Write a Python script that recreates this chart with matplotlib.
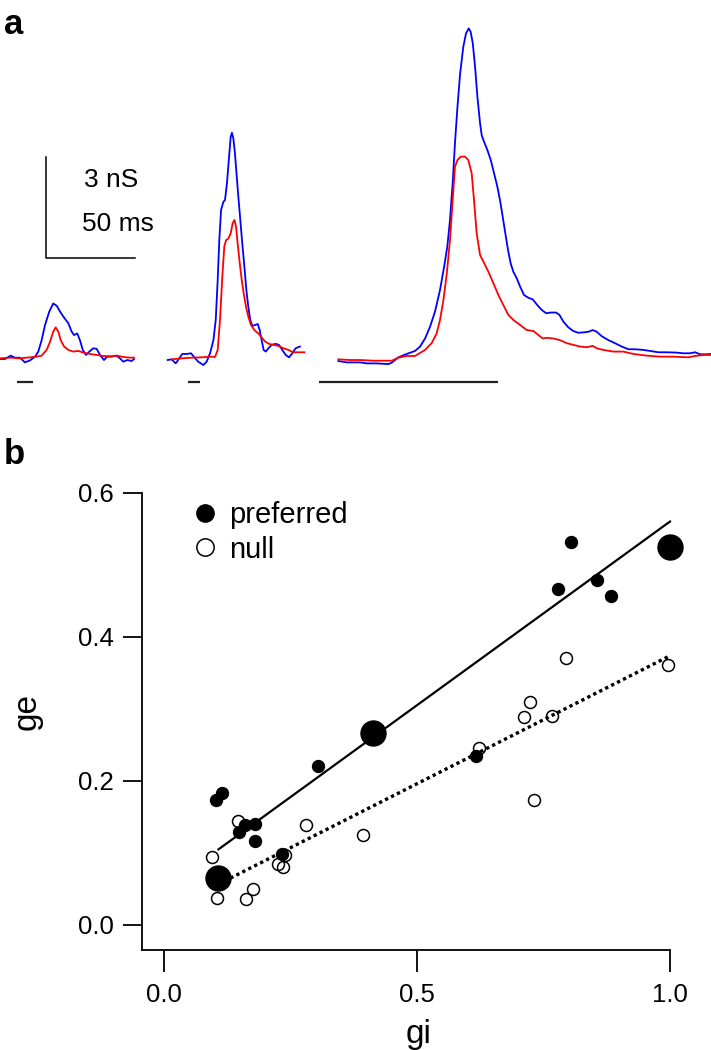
import numpy as np
import matplotlib.pyplot as plt

plt.rcParams['font.family'] = ['Liberation Sans', 'DejaVu Sans']

# ---- panel a: conductance traces (time in ms, conductance in nS) ----
t1_blue = [0, 2.8, 6.0, 8.4, 11.2, 14.0, 16.9, 19.7, 21.5, 23.4, 25.3, 27.7, 29.9, 31.9, 33.7, 36.0,
           38.4, 40.3, 41.6, 43.4, 44.9, 46.5, 48.3, 50.2, 52.4, 54.3, 56.2, 58.4, 60.3, 62.8, 65.2,
           67.0, 69.3, 71.5, 74.0, 75.3]
g1_blue = [-0.03, -0.03, 0.07, 0.01, 0.01, -0.13, -0.07, 0.04, 0.19, 0.53, 0.98, 1.38, 1.62, 1.55,
           1.38, 1.20, 1.03, 0.78, 0.68, 0.73, 0.53, 0.24, 0.09, 0.19, 0.29, 0.27, 0.09, -0.06, 0.04,
           0.04, 0.07, 0.01, -0.11, -0.06, -0.09, -0.03]
t1_red = [0, 5.6, 11.2, 16.9, 20.6, 23.4, 26.2, 28.1, 29.9, 31.3, 32.8, 34.1, 36.0, 38.4, 41.2, 44.0,
          46.8, 50.6, 54.3, 58.0, 61.8, 65.6, 69.3, 73.0, 75.3]
g1_red = [-0.01, 0.01, -0.01, 0.02, 0.04, 0.07, 0.24, 0.48, 0.78, 0.91, 0.78, 0.53, 0.34, 0.24, 0.19,
          0.21, 0.16, 0.12, 0.09, 0.06, 0.05, 0.07, 0.03, 0.01, 0.01]

t2_blue = [0, 2.2, 4.5, 6.9, 8.2, 10.7, 13.1, 15.0, 17.2, 20.0, 21.9, 23.8, 25.7, 27.0, 28.1, 29.0,
           30.0, 31.3, 32.2, 33.3, 34.5, 35.4, 36.1, 36.9, 37.8, 38.8, 39.7, 40.8, 41.9, 43.1, 44.2,
           45.3, 46.4, 47.6, 49.1, 50.6, 51.7, 52.8, 53.9, 55.1, 56.6, 58.4, 60.7, 62.5, 64.4, 66.3,
           68.2, 70.0, 71.9, 74.3]
g2_blue = [-0.06, -0.04, -0.16, 0.02, 0.12, 0.12, 0.14, 0.02, -0.11, -0.21, -0.11, 0.14, 0.53, 1.13,
           2.32, 3.50, 4.40, 4.64, 4.69, 5.19, 5.98, 6.57, 6.69, 6.52, 6.08, 5.39, 4.79, 4.10, 3.41,
           2.71, 2.02, 1.52, 1.13, 0.95, 0.98, 1.01, 0.83, 0.53, 0.24, 0.19, 0.29, 0.39, 0.42, 0.39,
           0.24, 0.09, 0.02, 0.14, 0.29, 0.34]
t2_red = [2.2, 7.9, 13.5, 19.1, 23.8, 26.6, 28.1, 29.4, 30.7, 31.8, 32.8, 34.1, 35.4, 36.5, 37.5, 38.4,
          39.3, 40.5, 41.6, 42.7, 44.0, 45.3, 46.8, 48.7, 50.9, 52.8, 54.7, 56.9, 59.4, 62.2, 65.0,
          67.8, 70.6, 73.4, 76.8]
g2_red = [-0.04, -0.01, 0.01, 0.02, 0.04, 0.03, 0.24, 1.13, 2.42, 3.31, 3.50, 3.55, 3.70, 4.00, 4.10,
          3.90, 3.41, 2.81, 2.32, 1.92, 1.52, 1.23, 0.98, 0.83, 0.73, 0.61, 0.49, 0.42, 0.39, 0.36,
          0.29, 0.24, 0.17, 0.17, 0.17]

t3_blue = [0, 4.7, 12.2, 15.9, 21.5, 28.1, 30.0, 33.7, 38.4, 43.1, 45.9, 48.7, 51.5, 54.3, 57.1, 59.4,
           61.2, 62.7, 64.2, 65.5, 66.9, 68.4, 70.2, 71.7, 73.2, 74.3, 75.5, 76.8, 78.1, 79.6, 80.5,
           81.8, 83.7, 85.6, 87.5, 89.3, 90.8, 92.3, 93.8, 95.3, 96.8, 98.3, 100.2, 102.1, 104.3,
           106.7, 109.2, 111.8, 114.2, 116.7, 119.3, 122.3, 124.2, 126.4, 129.2, 132.0, 134.8, 137.6,
           140.5, 142.9, 145.1, 147.9, 151.7, 155.4, 159.2, 162.9, 166.7, 171.4, 175.1, 179.8, 184.5,
           190.1, 193.8, 197.6, 200.4, 203.2, 206.9, 209.4]
g3_blue = [-0.09, -0.13, -0.13, -0.16, -0.16, -0.18, -0.14, 0.02, 0.12, 0.21, 0.34, 0.58, 0.93, 1.38,
           2.02, 2.71, 3.31, 4.10, 5.19, 6.38, 7.46, 8.45, 9.25, 9.64, 9.79, 9.69, 9.35, 8.65, 7.76,
           6.97, 6.62, 6.43, 6.18, 5.88, 5.48, 5.09, 4.69, 4.20, 3.70, 3.21, 2.81, 2.56, 2.37, 2.12,
           1.87, 1.79, 1.74, 1.57, 1.43, 1.33, 1.35, 1.35, 1.28, 1.08, 0.91, 0.80, 0.75, 0.76, 0.78,
           0.83, 0.78, 0.65, 0.53, 0.44, 0.34, 0.26, 0.26, 0.24, 0.21, 0.17, 0.17, 0.16, 0.14, 0.14,
           0.17, 0.11, 0.11, 0.12]
t3_red = [0, 6.6, 12.2, 19.7, 30.0, 33.7, 38.4, 43.1, 44.9, 48.7, 52.4, 55.2, 57.1, 59.0, 60.9, 62.7,
          64.2, 65.5, 66.9, 68.7, 71.2, 73.0, 74.9, 76.2, 77.7, 79.6, 81.5, 84.3, 87.1, 89.9, 92.7,
          95.5, 98.3, 102.1, 105.8, 109.6, 112.4, 114.8, 117.0, 120.8, 124.5, 128.3, 132.0, 135.8,
          139.5, 142.9, 145.1, 148.9, 154.5, 160.1, 165.7, 173.2, 180.7, 188.2, 196.6, 200.4, 205.1,
          209.4]
g3_red = [-0.04, -0.06, -0.06, -0.08, -0.08, 0.01, 0.06, 0.06, 0.12, 0.24, 0.44, 0.73, 1.13, 1.72,
          2.51, 3.50, 4.69, 5.68, 5.88, 5.98, 5.98, 5.88, 5.48, 4.69, 3.70, 3.06, 2.86, 2.56, 2.22,
          1.87, 1.57, 1.28, 1.13, 0.98, 0.83, 0.80, 0.68, 0.58, 0.60, 0.58, 0.53, 0.44, 0.39, 0.34,
          0.32, 0.36, 0.29, 0.24, 0.19, 0.19, 0.12, 0.07, 0.04, 0.04, 0.02, 0.06, 0.09, 0.09]

# stimulus bars (ms, relative to each trace start)
stim_on = [9.7, 11.6, -10.7]
stim_off = [18.7, 18.2, 89.9]

# ---- panel b: ge vs gi ----
pref_gi = [0.113, 0.103, 0.160, 0.148, 0.179, 0.179, 0.232, 0.304, 0.617, 0.778, 0.805, 0.855, 0.884]
pref_ge = [0.183, 0.173, 0.139, 0.129, 0.140, 0.116, 0.099, 0.221, 0.234, 0.466, 0.531, 0.479, 0.456]
null_gi = [0.094, 0.105, 0.161, 0.175, 0.146, 0.225, 0.235, 0.238, 0.280, 0.393, 0.622, 0.712,
           0.724, 0.731, 0.766, 0.795, 0.996]
null_ge = [0.094, 0.037, 0.036, 0.050, 0.144, 0.085, 0.081, 0.097, 0.139, 0.125, 0.245, 0.289,
           0.310, 0.174, 0.290, 0.370, 0.361]
mean_gi = [0.107, 0.413, 1.0]
mean_ge = [0.065, 0.266, 0.524]
fit_range = [0.107, 1.0]
pref_fit = (0.5095, 0.0505)   # slope, intercept
null_fit = (0.355, 0.0187)

W, H = 711, 1050
fig = plt.figure(figsize=(W / 100, H / 100), dpi=100)

# panel a
ms_per_px = 50 / 89.0
ns_per_px = 3 / 101.0
axa = fig.add_axes([0, 650 / H, 1, 400 / H])
axa.set_xlim(0, W * ms_per_px)
axa.set_ylim(-42 * ns_per_px, 358 * ns_per_px)
axa.axis('off')

offsets = [0, 94.2, 190.1]
traces = [(t1_blue, g1_blue, t1_red, g1_red),
          (t2_blue, g2_blue, t2_red, g2_red),
          (t3_blue, g3_blue, t3_red, g3_red)]
for i in range(3):
    tb, gb, tr, gr = traces[i]
    off = offsets[i]
    axa.plot(np.array(tb) + off, gb, color='#0000ff', lw=1.3)
    axa.plot(np.array(tr) + off, gr, color='#ff0000', lw=1.3)
    axa.plot([stim_on[i] + off, stim_off[i] + off], [-0.70, -0.70], color='#222222', lw=1.6,
             solid_capstyle='butt')

# scale bar
axa.plot([25.8, 25.8, 75.8], [5.97, 2.97, 2.97], color='k', lw=1.1)
axa.text(47.2, 5.29, '3 nS', fontsize=19, va='center', ha='left')
axa.text(46.1, 3.98, '50 ms', fontsize=19, va='center', ha='left')

fig.text(4 / W, 1 - 8 / H, 'a', fontsize=25, fontweight='bold', va='top', ha='left')
fig.text(4 / W, 1 - 438 / H, 'b', fontsize=25, fontweight='bold', va='top', ha='left')

# panel b
ax = fig.add_axes([142 / W, 100 / H, 528 / W, 457.3 / H])
ax.set_xlim(-0.0443, 1.0)
ax.set_ylim(-0.0347, 0.6)

fx = np.array(fit_range)
ax.plot(fx, pref_fit[0] * fx + pref_fit[1], color='k', lw=1.6, clip_on=False)
ax.plot(fx, null_fit[0] * fx + null_fit[1], color='k', lw=2.4, linestyle=(0, (1, 1)),
        clip_on=False)
ax.plot(null_gi, null_ge, 'o', mfc='none', mec='k', mew=1.1, ms=8.6, clip_on=False, label='null')
ax.plot(pref_gi, pref_ge, 'o', color='k', ms=8.6, clip_on=False, label='preferred')
ax.plot(mean_gi, mean_ge, 'o', color='k', ms=18, clip_on=False)

h, l = ax.get_legend_handles_labels()
ax.legend([h[1], h[0]], [l[1], l[0]], loc='upper left', bbox_to_anchor=(0.097, 0.982),
          frameon=False, fontsize=21, markerscale=1.45, handlelength=0.8, handletextpad=0.42,
          labelspacing=0.23, borderpad=0, borderaxespad=0)

for s in ['top', 'right']:
    ax.spines[s].set_visible(False)
for s in ['left', 'bottom']:
    ax.spines[s].set_linewidth(1.3)
ax.set_xticks([0, 0.5, 1.0])
ax.set_xticklabels(['0.0', '0.5', '1.0'])
ax.set_yticks([0, 0.2, 0.4, 0.6])
ax.set_yticklabels(['0.0', '0.2', '0.4', '0.6'])
ax.tick_params(axis='x', direction='out', length=15.7, width=1.3, labelsize=18.5, pad=8)
ax.tick_params(axis='y', direction='out', length=13.5, width=1.3, labelsize=18.5, pad=7)

ax.set_xlabel('gi', fontsize=24)
ax.set_ylabel('ge', fontsize=24)
ax.xaxis.set_label_coords(0.5246, -0.151)
ax.yaxis.set_label_coords(-0.1875, 0.5226)

fig.savefig('out.png', dpi=100)
